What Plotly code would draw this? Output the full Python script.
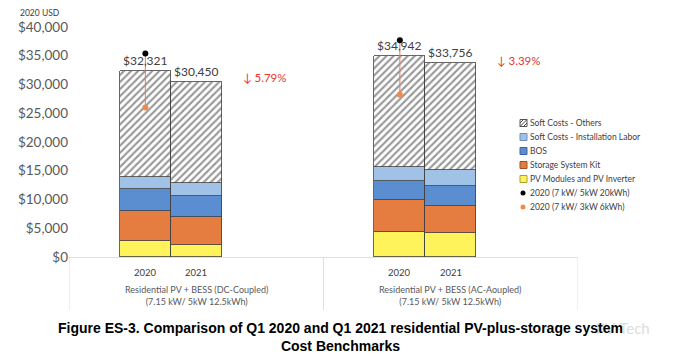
import plotly.graph_objects as go

groups = ["Residential PV + BESS (DC-Coupled)<br>(7.15 kW/ 5kW 12.5kWh)",
          "Residential PV + BESS (AC-Aoupled)<br>(7.15 kW/ 5kW 12.5kWh)"]
years = ["2020", "2021"]

# values ordered: DC 2020, DC 2021, AC 2020, AC 2021
pv_modules = [2700, 2100, 4400, 4120]
storage_kit = [5350, 4800, 5460, 4800]
bos = [3780, 3700, 3400, 3480]
install_labor = [2100, 2200, 2440, 2730]
totals = [32321, 30450, 34942, 33756]
soft_others = [t - (a + b + c + d) for t, a, b, c, d in zip(totals, pv_modules, storage_kit, bos, install_labor)]
total_labels = ["$32,321", "$30,450", "$34,942", "$33,756"]

ref_big = [35400, 37700]     # 2020 (7 kW/ 5kW 20kWh), DC and AC
ref_small = [26000, 28200]   # 2020 (7 kW/ 3kW 6kWh), DC and AC
change_labels = ["↓ 5.79%", "↓ 3.39%"]
change_y = [31300, 34100]

yticks = [0, 5000, 10000, 15000, 20000, 25000, 30000, 35000, 40000]
ytick_text = ["$0", "$5,000", "$10,000", "$15,000", "$20,000", "$25,000", "$30,000", "$35,000", "$40,000"]

legend_names = ["Soft Costs - Others", "Soft Costs - Installation Labor", "BOS",
                "Storage System Kit", "PV Modules and PV Inverter",
                "2020 (7 kW/ 5kW 20kWh)", "2020 (7 kW/ 3kW 6kWh)"]

C_PV, C_KIT, C_BOS, C_LAB = "#FFF35C", "#E47D3F", "#5B8ED0", "#9FC2E6"
C_BIG, C_SMALL = "black", "#F08A4B"

year_off = [-0.2, 0.0]
W = 0.2
xs = [g + o for g in range(len(groups)) for o in year_off]

txt = "#404040"
font = "Lato, Liberation Sans, sans-serif"
fig = go.Figure()
line = dict(color="#404040", width=0.8)

fig.add_trace(go.Bar(x=xs, y=pv_modules, width=W, name=legend_names[4], marker=dict(color=C_PV, line=line)))
fig.add_trace(go.Bar(x=xs, y=storage_kit, width=W, name=legend_names[3], marker=dict(color=C_KIT, line=line)))
fig.add_trace(go.Bar(x=xs, y=bos, width=W, name=legend_names[2], marker=dict(color=C_BOS, line=line)))
fig.add_trace(go.Bar(x=xs, y=install_labor, width=W, name=legend_names[1], marker=dict(color=C_LAB, line=line)))
fig.add_trace(go.Bar(x=xs, y=soft_others, width=W, name=legend_names[0],
                     marker=dict(color="white", line=line,
                                 pattern=dict(shape="/", fgcolor="#333333", bgcolor="white",
                                              size=5, solidity=0.42))))

x2020 = [g + year_off[0] for g in range(len(groups))]
for i, x in enumerate(x2020):
    fig.add_trace(go.Scatter(x=[x, x], y=[ref_big[i], ref_small[i]], mode="lines",
                             line=dict(color="#E8776B", width=1), hoverinfo="skip"))
fig.add_trace(go.Scatter(x=x2020, y=ref_big, mode="markers", name=legend_names[5],
                         marker=dict(color=C_BIG, size=6)))
fig.add_trace(go.Scatter(x=x2020, y=ref_small, mode="markers", name=legend_names[6],
                         marker=dict(color=C_SMALL, size=6)))

# plot area in pixels (for converting the manual legend / labels to paper coords)
L, R, T, B = 69, 578, 27, 257
def px(xp):
    return (xp - L) / (R - L)
def py(yp):
    return (B - yp) / (B - T)

ann = []
for x, t, lab in zip(xs, totals, total_labels):
    ann.append(dict(x=x, y=t, text=lab, showarrow=False, yanchor="bottom", yshift=1,
                    font=dict(size=12, color=txt, family=font)))
for g, lab in enumerate(change_labels):
    ann.append(dict(x=g + 0.27, y=change_y[g], text=lab, showarrow=False, yanchor="middle",
                    font=dict(size=11.5, color="#E8352E", family=font)))
for i, x in enumerate(xs):
    ann.append(dict(x=x, xref="x", y=py(272), yref="paper", text=years[i % 2], showarrow=False,
                    yanchor="middle", font=dict(size=9.5, color=txt, family=font)))
for g, lab in enumerate(groups):
    ann.append(dict(x=g, xref="x", y=py(282), yref="paper", text=lab, showarrow=False,
                    yanchor="top", font=dict(size=9, color="#595959", family=font)))
ann.append(dict(x=px(18), xref="paper", xanchor="left", y=py(13), yref="paper", text="2020 USD",
                yanchor="middle", showarrow=False, font=dict(size=8.5, color=txt, family=font)))
ann.append(dict(x=px(652), xref="paper", y=py(328), yref="paper", yanchor="middle", text="PV-Tech",
                showarrow=False, font=dict(size=15, color="#DDDDDD", family=font)))
ann.append(dict(x=px(340), xref="paper", xanchor="center", y=py(318), yref="paper", yanchor="top",
                text="<b>Figure ES-3. Comparison of Q1 2020 and Q1 2021 residential PV-plus-storage system<br>Cost Benchmarks</b>",
                showarrow=False, font=dict(size=14, color="black", family="Liberation Sans, Arial")))

shapes = []
for xv in [-0.5, 0.5, 1.5]:
    shapes.append(dict(type="line", xref="x", yref="paper", x0=xv, x1=xv, y0=0, y1=py(310),
                       line=dict(color="#E0E0E0", width=1)))

# manual legend
leg_y = [123, 137, 151, 165, 179, 193, 207]
sw_x0, sw_x1 = 520, 527
fills = ["white", C_LAB, C_BOS, C_KIT, C_PV]
borders = ["#555555", "#6F8FB8", "#3E6699", "#9A5427", "#A8A030"]
for i, name in enumerate(legend_names):
    yc = leg_y[i]
    if i < 5:
        shapes.append(dict(type="rect", xref="paper", yref="paper", x0=px(sw_x0), x1=px(sw_x1),
                           y0=py(yc + 3.5), y1=py(yc - 3.5), fillcolor=fills[i],
                           line=dict(color=borders[i], width=1)))
        if i == 0:
            for d in (0, 3.5):
                shapes.append(dict(type="line", xref="paper", yref="paper",
                                   x0=px(sw_x0 + d), y0=py(yc + 3.5), x1=px(sw_x0 + 3.5 + d), y1=py(yc),
                                   line=dict(color="#444444", width=1)))
                shapes.append(dict(type="line", xref="paper", yref="paper",
                                   x0=px(sw_x0 + d), y0=py(yc), x1=px(sw_x0 + 3.5 + d), y1=py(yc - 3.5),
                                   line=dict(color="#444444", width=1)))
    else:
        col = C_BIG if i == 5 else C_SMALL
        shapes.append(dict(type="circle", xref="paper", yref="paper", x0=px(520.5), x1=px(525.5),
                           y0=py(yc + 2.5), y1=py(yc - 2.5), fillcolor=col, line=dict(color=col, width=0)))
    ann.append(dict(x=px(528), xref="paper", xanchor="left", y=py(yc), yref="paper", yanchor="middle",
                    text=name, showarrow=False, font=dict(size=8.5, color=txt, family=font)))

fig.update_layout(
    width=680, height=361, barmode="stack", bargap=0, showlegend=False,
    paper_bgcolor="white", plot_bgcolor="white",
    margin=dict(l=L, r=680 - R, t=T, b=361 - B),
    font=dict(family=font, color=txt),
    xaxis=dict(range=[-0.5, 1.5], showticklabels=False, showgrid=False, zeroline=False,
               showline=True, linecolor="#E0E0E0", linewidth=1),
    yaxis=dict(range=[0, 40000], tickvals=yticks, ticktext=ytick_text, showgrid=False,
               zeroline=False, tickfont=dict(size=13.5, color="#595959", family=font),
               ticks="", automargin=False),
    annotations=ann, shapes=shapes,
)
fig.write_html("out.html", config={"displayModeBar": False},
               post_script="document.body.style.margin='0';document.body.style.padding='0';")
